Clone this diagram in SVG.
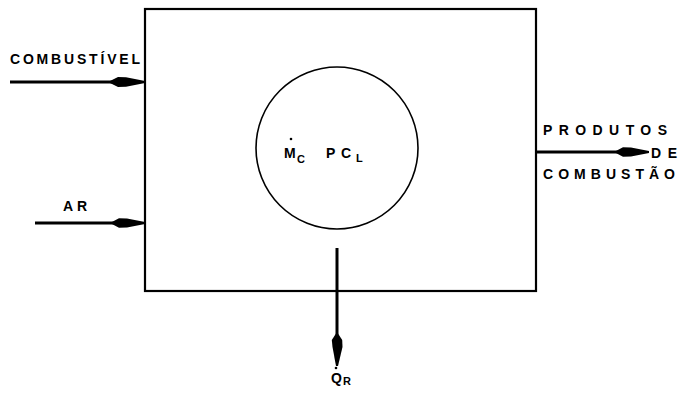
<svg xmlns="http://www.w3.org/2000/svg" width="678" height="397" viewBox="0 0 678 397">
<style>
.t{font-family:"Liberation Sans",Arial,sans-serif;font-weight:bold;font-size:14px;fill:#000}
.s{font-family:"Liberation Sans",Arial,sans-serif;font-weight:bold;font-size:11px;fill:#000}
.ln{stroke:#000;stroke-width:3;fill:none}
.ah{fill:#000;stroke:none}
</style>
<rect width="678" height="397" fill="#fff"/>
<g id="camara">
<rect x="145" y="9" width="391" height="282" fill="none" stroke="#000" stroke-width="2.2"/>
</g>
<g id="chama">
<circle cx="337" cy="148" r="81" fill="none" stroke="#000" stroke-width="1.6"/>
<text class="t" x="284" y="158">M</text>
<circle cx="291" cy="139" r="1.3" fill="#000"/>
<text class="s" x="297" y="163">C</text>
<text class="t" x="326" y="158" textLength="25" lengthAdjust="spacing">PC</text>
<text class="s" x="356" y="162">L</text>
</g>
<g id="combustivel">
<text class="t" x="10" y="64" textLength="130" lengthAdjust="spacing">COMBUSTÍVEL</text>
</g>
<g id="ar">
<text class="t" x="63" y="211" textLength="24" lengthAdjust="spacing">AR</text>
</g>
<g id="produtos">
<text class="t" x="543" y="135" textLength="124" lengthAdjust="spacing">PRODUTOS</text>
<text class="t" x="651" y="158" textLength="26" lengthAdjust="spacing">DE</text>
<text class="t" x="543" y="179" textLength="132" lengthAdjust="spacing">COMBUSTÃO</text>
</g>
<g id="calor">
<text class="t" x="331" y="383">Q</text>
<circle cx="336" cy="368" r="1.3" fill="#000"/>
<text class="s" x="343" y="385">R</text>
</g>
<g id="conectores">
<line class="ln" x1="10" y1="82" x2="120" y2="82"/>
<path class="ah" d="M108,82 L118,77 L126,77.3 L145,81 L145,83 L126,86.7 L118,87 Z"/>
<line class="ln" x1="35" y1="223" x2="120" y2="223"/>
<path class="ah" d="M110,223 L119,218.3 L127,218.6 L145,222 L145,224 L127,227.4 L119,227.7 Z"/>
<line class="ln" x1="536" y1="152" x2="625" y2="152"/>
<path class="ah" d="M614,152 L623,147.3 L631,147.6 L649,151 L649,153 L631,156.4 L623,156.7 Z"/>
<line class="ln" x1="337" y1="248" x2="337" y2="340"/>
<path class="ah" d="M337,332 L331.8,340 L332.5,347 L336,366 L338,366 L342.5,347 L342.2,340 Z"/>
</g>
</svg>
